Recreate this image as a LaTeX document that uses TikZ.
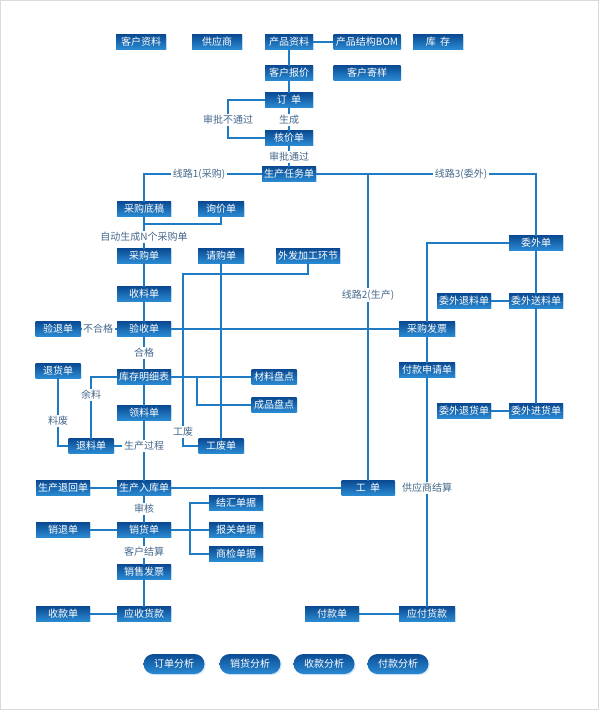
\documentclass[tikz,border=0pt]{standalone}
\usepackage{fontspec}
\setmainfont{Noto Sans CJK SC}
\usepackage{xcolor}
\usetikzlibrary{shadows,calc}

\definecolor{boxtop}{HTML}{0B4C94}
\definecolor{boxbot}{HTML}{2A8AD2}
\definecolor{lncol}{HTML}{1F7CC4}
\definecolor{lbltxt}{HTML}{44678A}
\definecolor{frm}{HTML}{DADADA}

\begin{document}
\begin{tikzpicture}[x=1pt, y=-1pt,
  nd/.style={rectangle, top color=boxtop, bottom color=boxbot, text=white,
             font=\fontsize{10}{11}\selectfont, minimum width=54pt, minimum height=14.5pt,
             inner xsep=2pt, inner ysep=0pt,
             drop shadow={shadow xshift=1.2pt, shadow yshift=-1.2pt, opacity=0.3, fill=boxbot!60}},
  pill/.style={nd, rounded corners=10pt, minimum width=61pt, minimum height=20pt},
  lbl/.style={font=\fontsize{10}{11}\selectfont, text=lbltxt, inner sep=1.5pt},
  ln/.style={draw=lncol, line width=1.3pt}
]
\useasboundingbox (0,0) rectangle (600,710);
\draw[frm, line width=0.8pt] (0.5,0.5) rectangle (598.5,709.5);

% ─── Master data row ───
\node[nd, minimum width=50pt] (khzl) at (141, 42) {客户资料};
\node[nd, minimum width=50pt] (gys)  at (217, 42) {供应商};
\node[nd, minimum width=48pt] (cpzl) at (289, 42) {产品资料};
\node[nd, minimum width=67pt] (bom)  at (367, 42) {产品结构BOM};
\node[nd, minimum width=50pt] (kc)   at (438, 42) {库\ \ 存};

% ─── Order chain ───
\node[nd, minimum width=48pt] (khbj) at (289, 73) {客户报价};
\node[nd, minimum width=67pt] (khjy) at (367, 73) {客户寄样};
\node[nd, minimum width=48pt] (dd)   at (289, 100) {订\ \ 单};
\node[lbl] (sc)    at (289, 120) {生成};
\node[lbl] (spbtg) at (228, 120) {审批不通过};
\node[nd, minimum width=48pt] (hjd)  at (289, 138) {核价单};
\node[lbl] (sptg)  at (289, 157) {审批通过};
\node[nd, minimum width=48pt] (scrw) at (289, 174) {生产任务单};

% ─── Route labels ───
\node[lbl] (xl1) at (199, 174) {线路1(采购)};
\node[lbl] (xl3) at (461, 174) {线路3(委外)};
\node[lbl] (xl2) at (368, 295) {线路2(生产)};
\coordinate (j2) at (368, 174);

% ─── Purchase column ───
\node[nd] (cgdg) at (144, 209) {采购底稿};
\node[nd, minimum width=46pt] (xjd) at (221, 209) {询价单};
\coordinate (j1) at (144, 224);
\node[lbl] (zdsc) at (144, 237) {自动生成N个采购单};
\node[nd] (cgd)  at (144, 256) {采购单};
\node[nd, minimum width=46pt] (qgd)  at (221, 256) {请购单};
\node[nd, minimum width=64pt] (wfjg) at (308, 256) {外发加工环节};
\coordinate (j4) at (183, 274);
\node[nd] (sld)  at (144, 294) {收料单};
\node[nd] (ysd)  at (144, 329) {验收单};
\node[nd, minimum width=45pt] (ytd) at (58, 329) {验退单};
\node[lbl] (bhg) at (98, 329) {不合格};
\node[lbl] (hg)  at (144, 353) {合格};

% ─── Stock ───
\node[nd] (kcmx) at (144, 377) {库存明细表};
\node[nd, minimum width=45pt] (thd) at (58, 371) {退货单};
\node[nd, minimum width=45pt] (clpd) at (274, 377) {材料盘点};
\node[nd, minimum width=45pt] (cppd) at (274, 405) {成品盘点};
\coordinate (j3) at (197, 377);
\node[lbl] (yl) at (91, 395) {余料};
\node[lbl] (lf) at (58, 421) {料废};
\node[nd] (lld)  at (144, 413) {领料单};
\node[nd, minimum width=45pt] (tld) at (91, 446) {退料单};
\node[lbl] (scgc) at (144, 446) {生产过程};
\node[lbl] (gf)   at (183, 432) {工废};
\node[nd, minimum width=45pt] (gfd) at (221, 446) {工废单};

% ─── Production / sales ───
\node[nd] (scrk) at (144, 488) {生产入库单};
\node[nd] (scth) at (63, 488) {生产退回单};
\node[nd, minimum width=53pt] (gd) at (368, 488) {工\ \ 单};
\node[lbl] (sh) at (144, 509) {审核};
\node[nd] (xhd)  at (144, 530) {销货单};
\node[nd] (xtd)  at (63, 530) {销退单};
\node[nd] (jhdj) at (236, 503) {结汇单据};
\node[nd] (bgdj) at (236, 530) {报关单据};
\node[nd] (sjdj) at (236, 554) {商检单据};
\coordinate (j5) at (190, 530);
\node[lbl] (khjs) at (144, 552) {客户结算};
\node[nd] (xsfp) at (144, 572) {销售发票};
\node[nd] (yshk) at (144, 614) {应收货款};
\node[nd] (skd)  at (63, 614) {收款单};

% ─── Outsourcing / payables ───
\node[nd] (wwd)   at (536, 243) {委外单};
\node[nd] (wwsl)  at (536, 301) {委外送料单};
\node[nd] (wwtl)  at (464, 301) {委外退料单};
\node[nd, minimum width=56pt] (cgfp)  at (427, 329) {采购发票};
\node[nd, minimum width=56pt] (fksq)  at (427, 370) {付款申请单};
\node[nd] (wwth)  at (464, 411) {委外退货单};
\node[nd] (wwjh)  at (536, 411) {委外进货单};
\node[lbl] (gysjs) at (427, 488) {供应商结算};
\node[nd, minimum width=56pt] (yfhk) at (427, 614) {应付货款};
\node[nd] (fkd)  at (332, 614) {付款单};

% ─── Analysis pills ───
\node[pill] (ddfx) at (174, 664) {订单分析};
\node[pill] (xhfx) at (250, 664) {销货分析};
\node[pill] (skfx) at (324, 664) {收款分析};
\node[pill] (fkfx) at (398, 664) {付款分析};

% ─── Connectors ───
\begin{scope}[ln]
\draw (cpzl.east) -- (bom.west);
\draw (cpzl.south) -- (khbj.north);
\draw (khbj.south) -- (dd.north);
\draw (dd.south) -- (sc.north);
\draw (sc.south) -- (hjd.north);
\draw (dd.west) -| (spbtg.north);
\draw (spbtg.south) |- (hjd.west);
\draw (hjd.south) -- (sptg.north);
\draw (sptg.south) -- (scrw.north);

% routes
\draw (scrw.west) -- (xl1.east);
\draw (xl1.west) -| (cgdg.north);
\draw (scrw.east) -- (xl3.west);
\draw (xl3.east) -| (wwd.north);
\draw (j2) -- (xl2.north);
\draw (xl2.south) -- (gd.north);

% purchase
\draw (cgdg.south) -- (zdsc.north);
\draw (xjd.south) |- (j1);
\draw (zdsc.south) -- (cgd.north);
\draw (cgd.south) -- (sld.north);
\draw (sld.south) -- (ysd.north);
\draw (ysd.west) -- (bhg.east);
\draw (bhg.west) -- (ytd.east);
\draw (ysd.east) -- (cgfp.west);
\draw (ysd.south) -- (hg.north);
\draw (hg.south) -- (kcmx.north);
\draw (wfjg.south) |- (j4) -- (gf.north);
\draw (gf.south) |- (gfd.west);
\draw (qgd.south) -- (gfd.north);

% stock
\draw (kcmx.east) -- (clpd.west);
\draw (j3) |- (cppd.west);
\draw (kcmx.west) -| (yl.north);
\draw (yl.south) -- (tld.north);
\draw (thd.south) -- (lf.north);
\draw (lf.south) |- (tld.west);
\draw (tld.east) -- (scgc.west);
\draw (kcmx.south) -- (lld.north);
\draw (lld.south) -- (scgc.north);
\draw (scgc.south) -- (scrk.north);

% production / sales
\draw (scrk.west) -- (scth.east);
\draw (scrk.east) -- (gd.west);
\draw (scrk.south) -- (sh.north);
\draw (sh.south) -- (xhd.north);
\draw (xhd.west) -- (xtd.east);
\draw (xhd.east) -- (bgdj.west);
\draw (j5) |- (jhdj.west);
\draw (j5) |- (sjdj.west);
\draw (xhd.south) -- (khjs.north);
\draw (khjs.south) -- (xsfp.north);
\draw (xsfp.south) -- (yshk.north);
\draw (yshk.west) -- (skd.east);

% outsourcing / payables
\draw (wwd.south) -- (wwsl.north);
\draw (wwsl.south) -- (wwjh.north);
\draw (wwtl.east) -- (wwsl.west);
\draw (wwth.east) -- (wwjh.west);
\draw (wwd.west) -| (cgfp.north);
\draw (cgfp.south) -- (fksq.north);
\draw (fksq.south) -- (gysjs.north);
\draw (gysjs.south) -- (yfhk.north);
\draw (yfhk.west) -- (fkd.east);
\end{scope}

\end{tikzpicture}
\end{document}
